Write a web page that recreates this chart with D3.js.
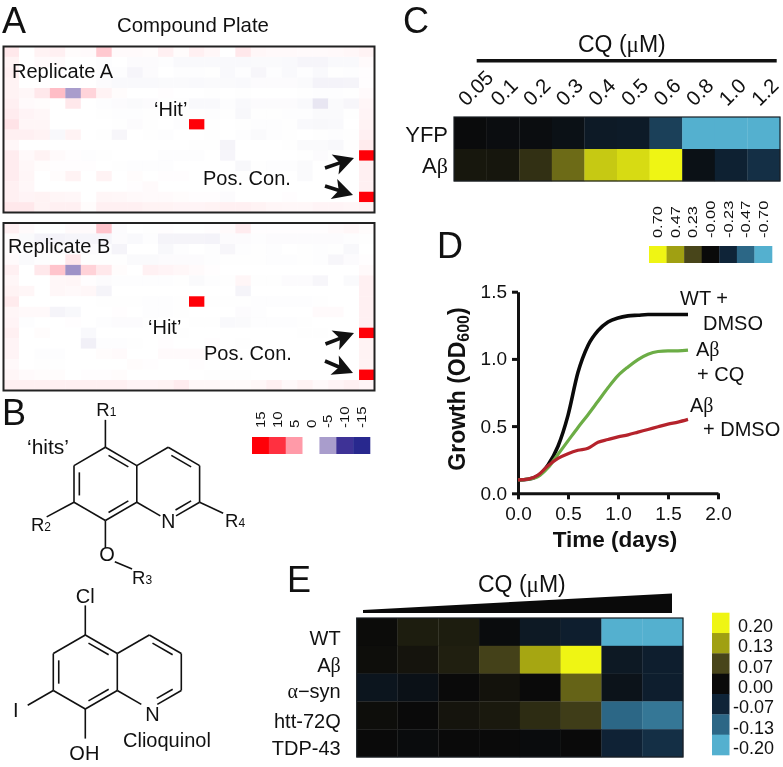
<!DOCTYPE html>
<html><head><meta charset="utf-8">
<script src="https://cdnjs.cloudflare.com/ajax/libs/d3/7.8.5/d3.min.js"></script>
<style>
html,body{margin:0;padding:0;background:#fff}
svg{display:block;filter:blur(.35px)}
text{font-family:"Liberation Sans",Arial,sans-serif;fill:#111}
.gr{font-family:"Liberation Serif",serif}
</style></head><body>
<svg id="c" width="783" height="767"></svg>
<script>
// ---------- Panel A values (well score, 16 rows x 24 columns)
const plateA = [
[1.5,0,.8,1,.2,.3,3,.3,.3,.2,1,.2,1,.5,0,1.5,.5,.4,.4,.3,.3,.4,.5,.8],
[.8,0,.3,.3,0,0,-.2,0,-.3,-.3,-.2,-.5,-.5,-.5,-.5,-.5,-.4,-.4,-.5,-.8,-.8,-.5,-.5,.3],
[1,0,0,.1,0,0,-.2,-.2,-.8,-.3,0,-.2,-.2,-.1,-.5,-.2,-.7,-.2,-.5,-.2,-.5,-.1,-.2,.1],
[.8,0,0,0,0,0,-.3,-.5,-.5,-.5,-.4,-.4,-.5,-.4,-.4,-.5,-.3,-.3,-.3,-.4,-1,-1,-.9,.1],
[.8,.5,1.5,3.5,-5,2.5,.8,.2,0,0,.1,0,0,-.1,0,-.1,0,0,0,-.1,-.2,-.2,-.1,.3],
[1,.3,.2,0,1.5,0,-.2,-.3,-.4,-.3,-.1,-.1,-.5,-.5,-.2,-.5,-.3,-.3,-.3,-.5,-2,-.4,-.7,.6],
[1.2,.7,.5,0,0,0,-.1,-.2,-.2,-.1,-.1,-.1,-.1,-.2,-.1,-.6,-.1,-.1,-.2,-.2,-.4,-.4,-.1,.7],
[1.8,.6,.6,0,0,0,0,-.1,-.3,-.1,0,-.2,15,-.1,0,-.1,-.2,-.2,-.1,-.5,-.6,-.5,0,.8],
[1,1,.8,-.6,.8,0,-.1,-.7,0,-.1,-.2,0,0,-.1,0,-.2,-.4,-.2,-.1,0,-.1,-.2,-.1,1],
[.5,0,0,0,0,0,0,0,0,0,0,0,-.1,-.1,-.9,0,0,0,-.1,-.4,-.4,-.6,-.1,1.3],
[1.2,.4,.8,.3,.1,-.2,-.1,0,0,0,-.2,-.2,-.2,0,-.8,0,0,0,0,-.1,-.3,-.1,0,15],
[1.2,.5,.2,.1,.1,.1,0,-.1,-.2,-.2,-.2,0,0,0,0,-.6,-.1,-.2,-.2,-.4,0,0,0,1],
[1.2,.6,0,.2,.8,0,.8,0,.2,0,.1,.1,0,0,0,-.1,0,-.1,0,-.4,0,0,0,1],
[1,.5,0,0,0,0,0,0,.1,.3,0,0,0,0,-.1,0,0,0,0,0,0,0,0,1],
[1,.7,.8,.6,.5,0,.6,.5,.4,.3,.3,.2,.1,.1,-.3,0,0,0,.1,0,0,0,0,15],
[1.5,1.5,.8,1,1,.2,1,1,1,.8,.8,.7,.7,.8,1,1,.8,.6,.5,.5,.7,.7,.6,.8]];
const plateB = [
[1,.3,0,0,.3,.3,3.2,-.3,0,-.1,.1,0,0,.1,.3,1.2,.1,.1,.1,.1,.1,.3,.5,.2],
[.2,-.4,-1,-1,-.8,-.8,-.8,-.3,-.5,-.2,-.9,-.9,-.9,-1,-.3,-.3,-.2,-.3,-.3,-.3,-.3,-.3,-.2,-.1],
[.2,-.2,-.3,-.3,-.3,-.3,-.2,-.9,0,0,-.6,-.2,0,-.2,-.7,-.2,-.1,-.2,0,-.1,-.2,-.1,-.6,0],
[.3,-.4,-.2,0,1.5,-.1,-.1,-.1,-.4,-.4,-.3,-.3,-.3,-.2,-.1,-.1,-.1,-.2,-.2,-.1,-.2,-.7,-.3,.1],
[1,0,1.5,3.2,-5.5,2.6,1.5,.2,0,.9,.7,.5,.3,.1,0,0,0,0,0,0,0,0,0,.4],
[.6,0,0,.5,.6,.1,-.3,-.2,-.2,-.2,-.2,-.1,-.4,-.2,-.1,.6,-.1,-.1,-.3,-.3,-.7,0,-.4,1],
[.8,.6,0,.5,.4,.5,-.9,0,0,0,0,0,0,0,0,-.9,0,0,0,0,0,0,0,1],
[1.3,0,0,0,0,0,-.1,-.1,-.1,-.2,-.2,-.1,15,-.1,-.1,-.1,-.2,-.2,-.2,-.2,-.1,0,0,1],
[.6,.4,.4,-.9,-.6,0,0,.1,0,-.2,-.2,-.1,0,0,0,-.3,-.2,0,0,0,.3,.3,0,1],
[.7,-.2,0,0,.1,0,-.2,-.3,-.3,-.1,0,0,-.1,-.1,-.5,-.4,-.2,-.2,-.2,-.1,0,0,0,1],
[1,0,.2,0,0,-.5,0,0,0,0,-.1,-.1,0,0,0,0,0,0,0,-.1,-.1,0,0,15],
[.7,0,0,0,0,-1.2,-.2,-.2,-.1,0,.1,0,0,.1,0,-.1,0,0,0,0,0,0,0,.8],
[.7,0,-.2,-.2,0,0,.2,.3,0,0,.3,.3,.3,.1,0,0,0,0,0,0,0,0,0,.8],
[.4,0,-.1,-.1,0,0,0,0,.2,.1,0,0,.1,0,0,0,0,0,0,0,0,0,0,.8],
[.6,.3,.2,.2,0,.1,.1,.2,0,0,0,0,0,-.1,-.1,-.1,0,0,0,0,0,0,0,15],
[1,1,1,1,1,1,1,1,.7,.7,.8,1.2,.5,.5,.3,.3,.5,1,.4,.8,.4,.7,1,.7]];
const wellRows = d3.range(16), wellCols = d3.range(24);
const plateTicks = ["15","10","5","0","-5","-10","-15"];
const plateStops = [15,10,5,0,-5,-10,-15];
const plateColors = ["#ff0008","#ff3040","#ff9aa8","#ffffff","#a99dcc","#3e3296","#28288e"];

// ---------- Panel C values
const cDoses = ["0.05","0.1","0.2","0.3","0.4","0.5","0.6","0.8","1.0","1.2"];
const cStrains = ["YFP","Aβ"];
const cYFP = [-.01,-.03,-.03,-.06,-.14,-.15,-.33,-.7,-.7,-.7];
const cAb  = [.05,.045,.15,.33,.58,.63,.7,-.06,-.2,-.27];
const cTicks = ["0.70","0.47","0.23","-0.00","-0.23","-0.47","-0.70"];
const cStops = [.7,.47,.23,0,-.23,-.47,-.7];
const heatColors = ["#eff514","#a0a012","#48451a","#0a0a0a","#0f2438","#2c6786","#54b0cf"];

// ---------- Panel D values
const days = [0,.1,.2,.3,.4,.5,.6,.7,.8,.9,1,1.1,1.2,1.3,1.4,1.5,1.6,1.7];
const wtDmso = [.1,.105,.13,.21,.35,.58,.9,1.1,1.21,1.275,1.305,1.32,1.325,1.33,1.33,1.33,1.33,1.33];
const abCq   = [.1,.105,.125,.19,.29,.39,.49,.585,.685,.785,.875,.94,.995,1.035,1.055,1.06,1.06,1.065];
const abDmso = [.1,.105,.135,.205,.26,.295,.32,.335,.38,.4,.42,.435,.455,.475,.495,.515,.53,.55];
const dXTicks = [0,.5,1,1.5,2], dYTicks = [0,.5,1,1.5];

// ---------- Panel E values
const eStrains = ["WT","Aβ","α−syn","htt-72Q","TDP-43"];
const eDoseSteps = d3.range(8);
const eWT  = [.002,.022,.022,-.005,-.04,-.055,-.2,-.2];
const eAb  = [.005,.012,.025,.065,.135,.2,-.04,-.055];
const eSyn = [-.03,-.02,0,.01,0,.09,-.025,-.055];
const eHtt = [.005,0,.012,.018,.04,.06,-.13,-.145];
const eTdp = [0,-.005,0,0,-.005,0,-.065,-.08];
const eTicks = ["0.20","0.13","0.07","0.00","-0.07","-0.13","-0.20"];
const eStops = [.2,.13,.07,0,-.07,-.13,-.2];

// ---------- Chemical structures (lattice units)
const ringAtoms = {a:[1,0],b:[0,1],c:[0,3],d:[1,4],e:[2,3],f:[2,1],g:[3,0],h:[4,1],i:[4,3],n:[3,4]};
const ringBonds = [["a","b"],["b","c"],["c","d"],["d","e"],["e","f"],["f","a"],["f","g"],["g","h"],["h","i"],["i","n"],["n","e"]];
const doubleBonds = [["b","c",1,2],["a","f",1,2],["d","e",1,2],["g","h",3,2],["i","n",3,2]];

const svg = d3.select("#c");
function txt(g,x,y,s,size,opt={}){
  const t=g.append("text").attr("x",x).attr("y",y).attr("font-size",size);
  if(opt.anchor)t.attr("text-anchor",opt.anchor);
  if(opt.weight)t.attr("font-weight",opt.weight);
  (Array.isArray(s)?s:[s]).forEach(p=>{
    const sp=t.append("tspan").text(typeof p==="string"?p:p.t);
    if(p.cls)sp.attr("class",p.cls);
    if(p.size)sp.attr("font-size",p.size);
    if(p.dy)sp.attr("dy",p.dy);
  });
  return t;
}
const greek=s=>Array.from(s).map(c=>/[αβμ]/.test(c)?{t:c,cls:"gr"}:c);

// panel letters
[["A",2,33],["B",2,425],["C",403,33],["D",437,258],["E",287,592]].forEach(d=>txt(svg,d[1],d[2],d[0],36));

// ---------- Panel A
const plateColor=d3.scaleLinear().domain([15,10,5,2,0,-2,-5,-10,-15])
  .range(["#ff0008","#ff3040","#ff9aa8","#ffe0e4","#ffffff","#e8e6f2","#a99dcc","#3e3296","#28288e"]).clamp(true);
const pax=d3.scaleBand().domain(wellCols).range([3.5,374.5]);
function plate(vals,top,bottom){
  const y=d3.scaleBand().domain(wellRows).range([top,bottom]);
  const g=svg.append("g");
  g.selectAll("g").data(vals).join("g").selectAll("rect").data((r,i)=>r.map((v,j)=>({v,i,j}))).join("rect")
    .attr("x",d=>pax(d.j)).attr("y",d=>y(d.i)).attr("width",pax.bandwidth()+.3).attr("height",y.bandwidth()+.3)
    .attr("fill",d=>plateColor(d.v));
  g.append("rect").attr("x",3.5).attr("y",top).attr("width",371).attr("height",bottom-top)
    .attr("fill","none").attr("stroke","#222").attr("stroke-width",2);
}
plate(plateA,46.5,212.5);
plate(plateB,223,390.5);
txt(svg,117,32,"Compound Plate",20.4);
txt(svg,12,78,"Replicate A",20);
txt(svg,154,116,"‘Hit’",20);
txt(svg,203,185,"Pos. Con.",20);
txt(svg,8,253,"Replicate B",20);
txt(svg,148,334,"‘Hit’",20);
txt(svg,204,360,"Pos. Con.",20);
const arrows=[[325,168,354,158],[325,186,353,195],[325.5,344,354,333],[325,361,353,373]];
arrows.forEach(a=>{
  const ang=Math.atan2(a[3]-a[1],a[2]-a[0]),len=Math.hypot(a[2]-a[0],a[3]-a[1]);
  const g=svg.append("g").attr("transform",`translate(${a[0]},${a[1]}) rotate(${ang*180/Math.PI})`);
  g.append("line").attr("x1",0).attr("y1",0).attr("x2",len-12).attr("y2",0).attr("stroke","#111").attr("stroke-width",3.6);
  g.append("path").attr("d",`M${len},0L${len-20},-10.5L${len-15},0L${len-20},10.5Z`).attr("fill","#111");
});

// plate legend
const plx=d3.scaleBand().domain(plateTicks).range([252,370]);
svg.selectAll(".pl").data(plateStops).join("rect").attr("class","pl")
  .attr("x",(d,i)=>plx(plateTicks[i])).attr("y",437).attr("width",plx.bandwidth()+.3).attr("height",17).attr("fill",d=>plateColor(d));
plateTicks.forEach(t=>{
  svg.append("text").attr("transform",`translate(${plx(t)+plx.bandwidth()/2+4.5},428) rotate(-90) scale(1.25,1)`)
   .attr("font-size",12).text(t);
});

// ---------- Panel B
function molecule(x0,y0,ux,uy,extras,labels){
  const sx=d3.scaleLinear().domain([0,1]).range([x0,x0+ux]);
  const sy=d3.scaleLinear().domain([0,1]).range([y0,y0+uy]);
  const g=svg.append("g").attr("stroke","#111").attr("stroke-width",1.6).attr("fill","none");
  const seg=(p,q)=>g.append("line").attr("x1",sx(p[0])).attr("y1",sy(p[1])).attr("x2",sx(q[0])).attr("y2",sy(q[1]));
  const lerp=(p,q,t)=>[p[0]+(q[0]-p[0])*t,p[1]+(q[1]-p[1])*t];
  ringBonds.forEach(b=>{
    let p=ringAtoms[b[0]],q=ringAtoms[b[1]];
    if(b[0]==="n")p=lerp(p,q,.25);
    if(b[1]==="n")q=lerp(q,p,.25);
    seg(p,q);
  });
  doubleBonds.forEach(b=>{
    let p=ringAtoms[b[0]],q=ringAtoms[b[1]];const c=[b[2],b[3]];
    const p2=lerp(p,c,.17),q2=lerp(q,c,.17);
    let s=lerp(p2,q2,.12),e=lerp(p2,q2,b[1]==="n"?.72:.88);
    seg(s,e);
  });
  extras.forEach(b=>seg(b[0],b[1]));
  labels.forEach(l=>txt(svg,sx(l[0]),sy(l[1]),l[2],l[3]||18.5,{anchor:"middle"}));
}
const sub=(a,b)=>[a,{t:b,size:12}];
molecule(74,447.3,31.4,18.3,
 [[[1,0],[1,-1.5]],[[0,3],[-.87,3.8]],[[1,4],[1,5.5]],[[1.3,6.25],[1.85,6.65]],[[4,3],[4.75,3.6]]],
 [[1.03,-1.7,sub("R","1")],[-1.05,4.55,sub("R","2")],[1.05,6.2,"O",20],[2.17,7.47,sub("R","3")],[3,4.39,"N",19.5],[5.13,4.36,sub("R","4")]]);
txt(svg,27,454,"‘hits’",21);
molecule(53.3,635,32,18.5,
 [[[1,0],[1,-1.6]],[[0,3],[-.8,3.8]],[[1,4],[1,5.6]]],
 [[1,-1.73,"Cl",20],[-1.17,4.42,"I",20],[3.1,4.65,"N",20],[.97,6.76,"OH",20]]);
txt(svg,123,747,"Clioquinol",20);

// ---------- Heat colour
const cColor=d3.scaleLinear().domain(cStops).range(heatColors).clamp(true);
const eColor=d3.scaleLinear().domain(eStops).range(heatColors).clamp(true);
function heat(rows,xDom,yDom,xr,yr,color){
  const x=d3.scaleBand().domain(xDom).range(xr),y=d3.scaleBand().domain(yDom).range(yr);
  const g=svg.append("g");
  rows.forEach((r,i)=>g.selectAll(null).data(r).join("rect")
    .attr("x",(d,j)=>x(xDom[j])).attr("y",y(yDom[i])).attr("width",x.bandwidth()+.3).attr("height",y.bandwidth()+.3)
    .attr("fill",d=>color(d)));
  g.append("rect").attr("x",xr[0]).attr("y",yr[0]).attr("width",xr[1]-xr[0]).attr("height",yr[1]-yr[0])
   .attr("fill","none").attr("stroke","#1a1f24").attr("stroke-width",1.2);
  return {x,y};
}

// ---------- Panel C
const hc=heat([cYFP,cAb],cDoses,cStrains,[454,780],[117,181],cColor);
svg.append("line").attr("x1",476.7).attr("x2",776.7).attr("y1",60.7).attr("y2",60.7).attr("stroke","#111").attr("stroke-width",3.5);
txt(svg,578,51.7,["CQ (",{t:"μ",cls:"gr"},"M)"],23);
cDoses.forEach(t=>{
  svg.append("text").attr("transform",`translate(${hc.x(t)+hc.x.bandwidth()/2-9},102) rotate(-45)`)
    .attr("dy",".35em").attr("font-size",20.5).text(t);
});
txt(svg,448,141.7,"YFP",22,{anchor:"end"});
txt(svg,448,173,greek("Aβ"),22,{anchor:"end"});
const clx=d3.scaleBand().domain(cTicks).range([649,772]);
svg.selectAll(".cl").data(cStops).join("rect").attr("class","cl")
  .attr("x",(d,i)=>clx(cTicks[i])).attr("y",246).attr("width",clx.bandwidth()+.3).attr("height",17).attr("fill",d=>cColor(d));
cTicks.forEach(t=>{
  svg.append("text").attr("transform",`translate(${clx(t)+clx.bandwidth()/2+4.5},238) rotate(-90) scale(1.32,1)`)
   .attr("font-size",12.4).text(t);
});

// ---------- Panel D
const dx=d3.scaleLinear().domain([0,2]).range([518,718]);
const dy=d3.scaleLinear().domain([0,1.5]).range([493.3,291.7]);
const gx=svg.append("g").attr("transform","translate(0,493.3)").call(d3.axisBottom(dx).tickValues(dXTicks).tickFormat(d3.format(".1f")).tickSizeInner(6).tickSizeOuter(0));
const gy=svg.append("g").attr("transform","translate(518,0)").call(d3.axisLeft(dy).tickValues(dYTicks).tickFormat(d3.format(".1f")).tickSizeInner(6).tickSizeOuter(0));
[gx,gy].forEach(g=>{
  g.selectAll(".domain,line").attr("stroke","#111").attr("stroke-width",3);
  g.selectAll("text").attr("font-size",19).style("font-family",'"Liberation Sans",Arial,sans-serif').attr("fill","#111");
});
gx.selectAll("text").attr("y",13).attr("dy",".7em");
gy.selectAll("text").attr("x",-11);
const line=d3.line().x((d,i)=>dx(days[i])).y(d=>dy(d)).curve(d3.curveMonotoneX);
[[wtDmso,"#0a0a0a",3.6],[abCq,"#6cad46",3.2],[abDmso,"#b5232c",3.2]].forEach(s=>{
  svg.append("path").attr("d",line(s[0])).attr("fill","none").attr("stroke",s[1]).attr("stroke-width",s[2]);
});
txt(svg,680,305,"WT +",20);
txt(svg,703,330,"DMSO",20);
txt(svg,696,356,greek("Aβ"),20);
txt(svg,697,381,"+ CQ",20);
txt(svg,690,412,greek("Aβ"),20);
txt(svg,703,436,"+ DMSO",20);
txt(svg,615,547,"Time (days)",22.5,{anchor:"middle",weight:"bold"});
const yt=svg.append("text").attr("transform","translate(465,389) rotate(-90)").attr("text-anchor","middle").attr("font-weight","bold").attr("font-size",23);
yt.append("tspan").text("Growth (OD");
yt.append("tspan").text("600").attr("font-size",16).attr("dy",4);
yt.append("tspan").text(")").attr("dy",-4);

// ---------- Panel E
const he=heat([eWT,eAb,eSyn,eHtt,eTdp],eDoseSteps,eStrains,[356.7,683],[618,757],eColor);
txt(svg,478,592,["CQ (",{t:"μ",cls:"gr"},"M)"],23);
svg.append("path").attr("d","M363,610L672,593.5L672,613L363,613Z").attr("fill","#0a0a0a");
const eBase=[645,671.7,698,728,755];
eStrains.forEach((s,i)=>txt(svg,340.7,eBase[i],greek(s),20,{anchor:"end"}));
const ely=d3.scaleBand().domain(eTicks).range([612.7,755]);
svg.selectAll(".el").data(eStops).join("rect").attr("class","el")
  .attr("x",712).attr("y",(d,i)=>ely(eTicks[i])).attr("width",17.5).attr("height",ely.bandwidth()+.3).attr("fill",d=>eColor(d));
eTicks.forEach(t=>{
  txt(svg,t[0]==="-"?733:738,ely(t)+ely.bandwidth()-1,t,18);
});
</script>
</body></html>
